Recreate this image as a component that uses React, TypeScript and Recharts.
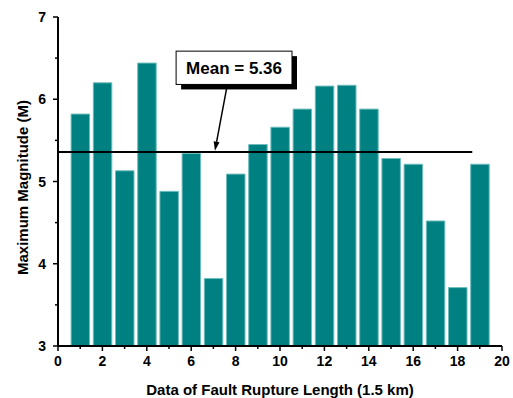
import React from 'react';
import { ComposedChart, Bar, XAxis, YAxis, ReferenceLine, ReferenceArea, Label } from 'recharts';

const segmentIndex = [1, 2, 3, 4, 5, 6, 7, 8, 9, 10, 11, 12, 13, 14, 15, 16, 17, 18, 19];
const maxMagnitude = [5.82, 6.2, 5.13, 6.44, 4.88, 5.34, 3.82, 5.09, 5.45, 5.66, 5.88, 6.16, 6.17, 5.88, 5.28, 5.21, 4.52, 3.71, 5.21];
const xTicks = [0, 1, 2, 3, 4, 5, 6, 7, 8, 9, 10, 11, 12, 13, 14, 15, 16, 17, 18, 19, 20];
const yTicks = [3, 3.5, 4, 4.5, 5, 5.5, 6, 6.5, 7];
const meanValue = 5.36;
const meanLineEnd = 18.66;
const meanLabel = 'Mean = 5.36';
const labelBox = { x1: 5.32, x2: 10.54, y1: 6.18, y2: 6.585 };
const arrowFrom = { x: 7.63, y: 6.18 };
const arrowTo = { x: 7.07, y: 5.375 };
const xTitle = 'Data of Fault Rupture Length (1.5 km)';
const yTitle = 'Maximum Magnitude (M)';

const data = segmentIndex.map((x, i) => ({ x, m: maxMagnitude[i] }));

const FONT = '"Liberation Sans", Arial, Helvetica, sans-serif';

const XTick = (props: any) => {
  const { x, y, payload } = props;
  const v = payload.value;
  const major = v % 2 === 0;
  return (
    <g>
      <line x1={x} x2={x} y1={y} y2={y + (major ? 5 : 3)} stroke="#000" strokeWidth={1.5} />
      {major && (
        <text x={x} y={y + 20} textAnchor="middle" fontSize={14} fontWeight="bold" fontFamily={FONT} fill="#000">
          {v}
        </text>
      )}
    </g>
  );
};

const YTick = (props: any) => {
  const { x, y, payload } = props;
  const v = payload.value;
  const major = Number.isInteger(v);
  return (
    <g>
      <line x1={x - (major ? 5 : 3)} x2={x} y1={y} y2={y} stroke="#000" strokeWidth={1.5} />
      {major && (
        <text x={x - 12} y={y + 5} textAnchor="end" fontSize={14} fontWeight="bold" fontFamily={FONT} fill="#000">
          {v}
        </text>
      )}
    </g>
  );
};

const BoxShape = (props: any) => {
  const { x, y, width, height } = props;
  return (
    <g>
      <rect x={x + 5} y={y + 5} width={width} height={height} fill="#000" />
      <rect x={x} y={y} width={width} height={height} fill="#fff" stroke="#000" strokeWidth={1} />
      <text
        x={x + width / 2}
        y={y + height / 2 + 6}
        textAnchor="middle"
        fontSize={17}
        fontWeight="bold"
        fontFamily={FONT}
        fill="#000"
      >
        {meanLabel}
      </text>
    </g>
  );
};

const ArrowShape = (props: any) => {
  const { x1, y1, x2, y2 } = props;
  if ([x1, y1, x2, y2].some((v) => typeof v !== 'number' || isNaN(v))) return <g />;
  const dx = x2 - x1;
  const dy = y2 - y1;
  const len = Math.sqrt(dx * dx + dy * dy);
  const ux = dx / len;
  const uy = dy / len;
  const hl = 9;
  const hw = 3;
  const bx = x2 - ux * hl;
  const by = y2 - uy * hl;
  const px = -uy * hw;
  const py = ux * hw;
  return (
    <g>
      <line x1={x1} y1={y1} x2={bx} y2={by} stroke="#000" strokeWidth={1.5} />
      <polygon points={`${x2},${y2} ${bx + px},${by + py} ${bx - px},${by - py}`} fill="#000" />
    </g>
  );
};

export default function App() {
  return (
    <div style={{ position: 'absolute', left: 0, top: 0 }}>
      <ComposedChart
        width={513}
        height={398}
        data={data}
        margin={{ top: 17, right: 11, left: 0, bottom: 0 }}
        style={{ fontFamily: FONT }}
      >
        <XAxis
          dataKey="x"
          type="number"
          domain={[0, 20]}
          ticks={xTicks}
          interval={0}
          height={52}
          tickSize={0}
          tickMargin={0}
          tickLine={false}
          axisLine={{ stroke: '#000', strokeWidth: 2 }}
          tick={<XTick />}
        >
          <Label
            content={(p: any) => {
              const vb = p.viewBox || { x: 58, y: 346, width: 444, height: 52 };
              return (
                <text
                  x={vb.x + vb.width / 2}
                  y={vb.y + 49}
                  textAnchor="middle"
                  fontSize={15}
                  fontWeight="bold"
                  fontFamily={FONT}
                  fill="#000"
                >
                  {xTitle}
                </text>
              );
            }}
          />
        </XAxis>
        <YAxis
          type="number"
          domain={[3, 7]}
          ticks={yTicks}
          interval={0}
          width={58}
          tickSize={0}
          tickMargin={0}
          tickLine={false}
          axisLine={{ stroke: '#000', strokeWidth: 2 }}
          tick={<YTick />}
        >
          <Label
            content={(p: any) => {
              const vb = p.viewBox || { x: 0, y: 17, width: 58, height: 329 };
              const cx = vb.x + 27.5;
              const cy = vb.y + vb.height / 2 + 6;
              return (
                <text
                  x={cx}
                  y={cy}
                  transform={`rotate(-90 ${cx} ${cy})`}
                  textAnchor="middle"
                  fontSize={15}
                  fontWeight="bold"
                  fontFamily={FONT}
                  fill="#000"
                >
                  {yTitle}
                </text>
              );
            }}
          />
        </YAxis>
        <Bar
          dataKey="m"
          fill="#008080"
          stroke="#6fbdbd"
          strokeWidth={1}
          barSize={18.5}
          isAnimationActive={false}
        />
        <ReferenceLine
          segment={[
            { x: 0, y: meanValue },
            { x: meanLineEnd, y: meanValue },
          ]}
          stroke="#000"
          strokeWidth={2}
        />
        <ReferenceLine
          segment={[arrowFrom, arrowTo]}
          stroke="#000"
          strokeWidth={1.5}
          shape={(p: any) => <ArrowShape {...p} />}
        />
        <ReferenceArea
          x1={labelBox.x1}
          x2={labelBox.x2}
          y1={labelBox.y1}
          y2={labelBox.y2}
          shape={(p: any) => <BoxShape {...p} />}
        />
      </ComposedChart>
    </div>
  );
}
